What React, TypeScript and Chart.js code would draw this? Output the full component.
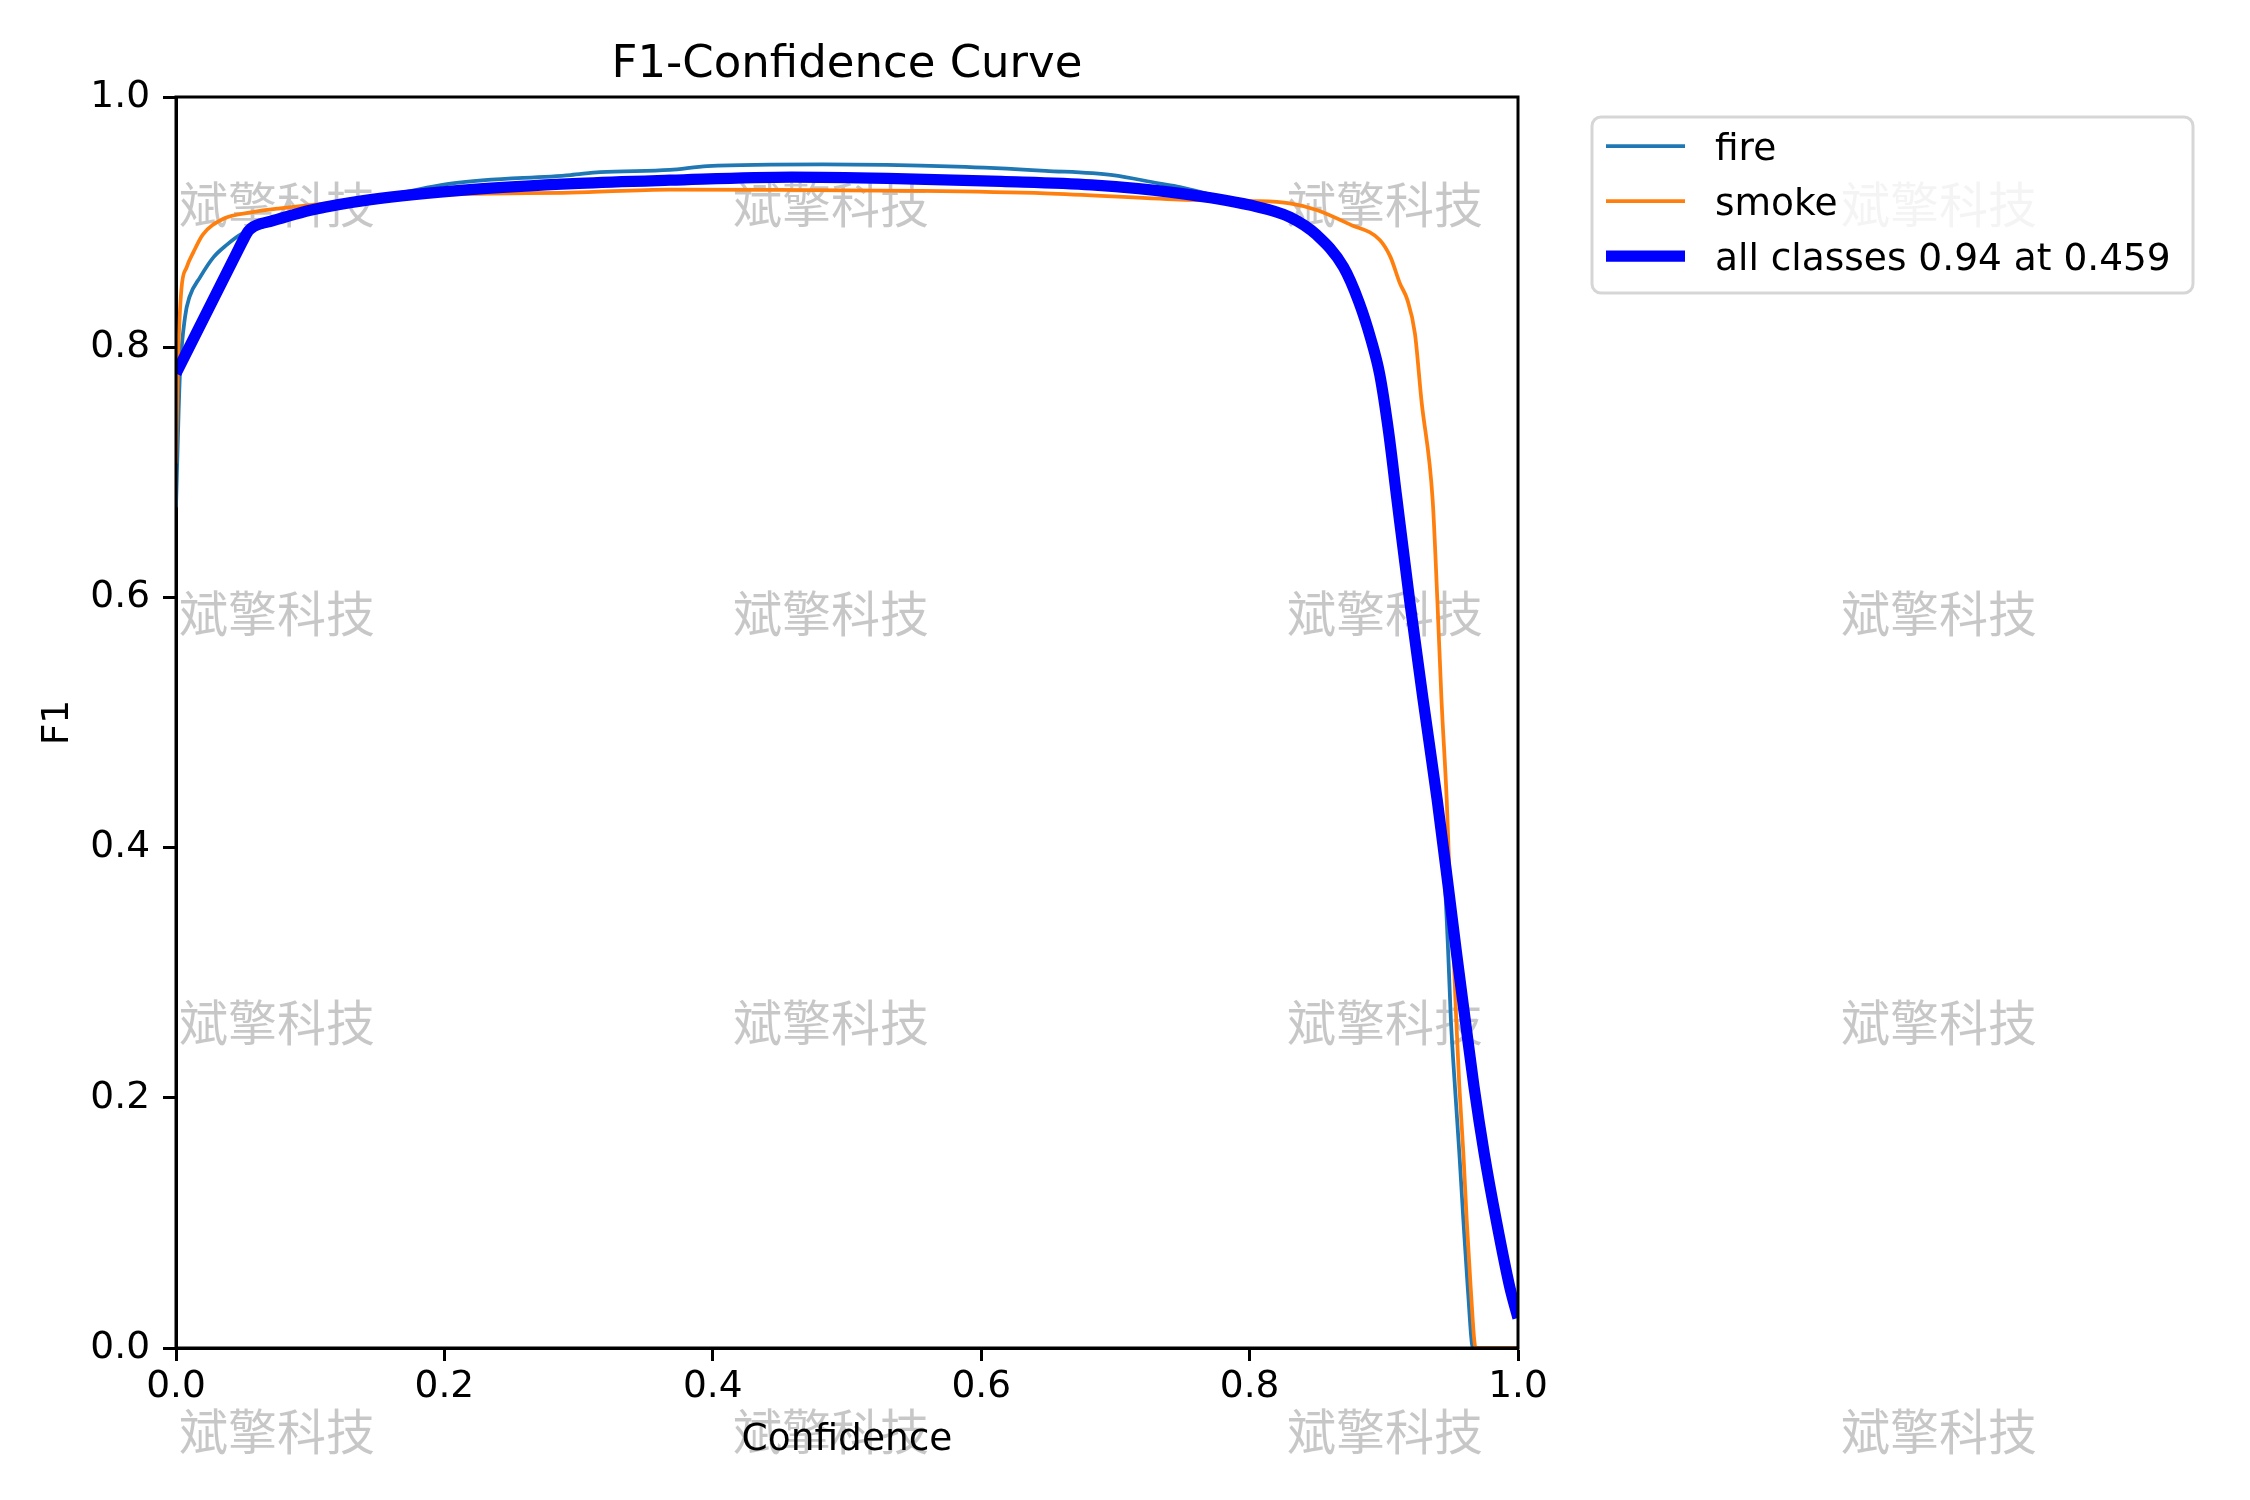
import { useEffect, useRef } from "react";
import { Chart, registerables } from "chart.js";
import type { ChartConfiguration, Plugin } from "chart.js";

Chart.register(...registerables);

// F1 curves
const fireConf = [
  0, 0.002, 0.003, 0.0067, 0.01, 0.018, 0.028, 0.038, 0.048, 0.07, 0.145, 0.206,
  0.294, 0.316, 0.368, 0.396, 0.482, 0.582, 0.648, 0.698, 0.732, 0.748, 0.8, 0.83,
  0.85, 0.87, 0.8815, 0.8905, 0.897, 0.9035, 0.9093, 0.919, 0.929, 0.9395, 0.9456, 0.948,
  0.95, 0.953, 0.9563, 0.9593, 0.9625, 0.9665, 1,
];
const fireF1 = [
  0.672, 0.75, 0.78, 0.824, 0.84, 0.856, 0.872, 0.882, 0.89, 0.9, 0.918, 0.931,
  0.9376, 0.94, 0.9417, 0.9448, 0.9462, 0.9443, 0.941, 0.9376, 0.931, 0.928, 0.913, 0.902,
  0.887, 0.862, 0.834, 0.804, 0.776, 0.731, 0.678, 0.596, 0.516, 0.436, 0.369, 0.3155,
  0.262, 0.209, 0.1556, 0.102, 0.049, 0, 0,
];

const smokeConf = [
  0, 0.0017, 0.004, 0.008, 0.013, 0.02, 0.035, 0.057, 0.0775, 0.145, 0.219, 0.294,
  0.368, 0.45, 0.55, 0.648, 0.748, 0.8, 0.83, 0.85, 0.875, 0.897, 0.905, 0.912,
  0.9175, 0.9232, 0.928, 0.9364, 0.9399, 0.943, 0.9469, 0.9493, 0.952, 0.954, 0.9563,
  0.9593, 0.9618, 0.9647, 0.9685, 1,
];
const smokeF1 = [
  0.707, 0.795, 0.846, 0.864, 0.876, 0.89, 0.9025, 0.908, 0.911, 0.918, 0.9225, 0.9235,
  0.926, 0.9257, 0.925, 0.923, 0.918, 0.917, 0.915, 0.9097, 0.898, 0.8857, 0.872, 0.851,
  0.838, 0.811, 0.758, 0.678, 0.598, 0.518, 0.438, 0.369, 0.3155, 0.262, 0.209,
  0.1556, 0.102, 0.049, 0, 0,
];

const allConf = [
  0, 0.045, 0.05, 0.054, 0.058, 0.064, 0.07, 0.1, 0.145, 0.219, 0.3, 0.368, 0.459,
  0.53, 0.615, 0.682, 0.748, 0.8, 0.83, 0.85, 0.87, 0.8815, 0.8905, 0.897, 0.9035,
  0.9096, 0.9192, 0.9293, 0.9398, 0.948, 0.9542, 0.9607, 0.9672, 0.9748, 0.9838, 0.9938, 1,
];
const allF1 = [
  0.779, 0.8749, 0.8855, 0.893, 0.8965, 0.899, 0.9005, 0.9095, 0.918, 0.926, 0.931, 0.9335, 0.936,
  0.935, 0.9325, 0.9297, 0.923, 0.9136, 0.904, 0.8897, 0.864, 0.836, 0.806, 0.778, 0.733,
  0.68, 0.598, 0.518, 0.438, 0.369, 0.3155, 0.262, 0.209, 0.1556, 0.102, 0.049, 0.024,
];

const xTicks = [0, 0.2, 0.4, 0.6, 0.8, 1.0];
const yTicks = [0, 0.2, 0.4, 0.6, 0.8, 1.0];
const seriesLabels = ["fire", "smoke", "all classes 0.94 at 0.459"];
const seriesColors = ["#1f77b4", "#ff7f0e", "#0000ff"];
const chartTitle = "F1-Confidence Curve";
const xTitle = "Confidence";
const yTitle = "F1";
const watermark = "斌擎科技";

const FONT = "DejaVu Sans";
const FS = 37.5;
const W = 2250;
const H = 1500;
const AREA = { left: 176, top: 97, right: 1518, bottom: 1348 };
const WM_COLS = [179, 733, 1287, 1841];
const WM_ROWS = [204, 613, 1022, 1431];

const toPoints = (xs: number[], ys: number[]) => xs.map((x, i) => ({ x, y: ys[i] }));

const watermarkPlugin: Plugin<"line"> = {
  id: "watermark",
  beforeDraw(chart) {
    const { ctx } = chart;
    ctx.save();
    ctx.font = `49px "Noto Sans CJK SC"`;
    ctx.fillStyle = "rgba(0,0,0,0.22)";
    ctx.textAlign = "left";
    ctx.textBaseline = "middle";
    WM_ROWS.forEach((y) => WM_COLS.forEach((x) => ctx.fillText(watermark, x, y)));
    ctx.restore();
  },
};

const framePlugin: Plugin<"line"> = {
  id: "frame",
  afterDatasetsDraw(chart) {
    const { ctx, chartArea } = chart;
    ctx.save();
    ctx.strokeStyle = "#000";
    ctx.lineWidth = 3;
    ctx.strokeRect(
      chartArea.left,
      chartArea.top,
      chartArea.right - chartArea.left,
      chartArea.bottom - chartArea.top
    );
    ctx.restore();
  },
};

const titleLegendPlugin: Plugin<"line"> = {
  id: "titleLegend",
  afterDraw(chart) {
    const { ctx, chartArea } = chart;
    ctx.save();
    // title
    ctx.fillStyle = "#000";
    ctx.font = `45px "${FONT}"`;
    ctx.textAlign = "center";
    ctx.textBaseline = "alphabetic";
    ctx.fillText(chartTitle, (chartArea.left + chartArea.right) / 2, 77);

    // legend box
    const bx = 1592, by = 117, bw = 601, bh = 176, r = 9;
    ctx.beginPath();
    ctx.moveTo(bx + r, by);
    ctx.arcTo(bx + bw, by, bx + bw, by + bh, r);
    ctx.arcTo(bx + bw, by + bh, bx, by + bh, r);
    ctx.arcTo(bx, by + bh, bx, by, r);
    ctx.arcTo(bx, by, bx + bw, by, r);
    ctx.closePath();
    ctx.fillStyle = "rgba(255,255,255,0.8)";
    ctx.fill();
    ctx.strokeStyle = "rgba(204,204,204,0.8)";
    ctx.lineWidth = 3;
    ctx.stroke();

    ctx.font = `${FS}px "${FONT}"`;
    ctx.textAlign = "left";
    ctx.textBaseline = "middle";
    seriesLabels.forEach((label, i) => {
      const y = 146 + i * 55;
      ctx.beginPath();
      ctx.moveTo(1606, y);
      ctx.lineTo(1685, y);
      ctx.strokeStyle = seriesColors[i];
      ctx.lineWidth = i === 2 ? 11.25 : 3.75;
      ctx.lineCap = "butt";
      ctx.stroke();
      ctx.fillStyle = "#000";
      ctx.fillText(label, 1715, y + 4);
    });
    ctx.restore();
  },
};

export default function App() {
  const canvasRef = useRef<HTMLCanvasElement>(null);
  const chartRef = useRef<Chart | null>(null);

  useEffect(() => {
    if (!canvasRef.current) return;
    if (chartRef.current) chartRef.current.destroy();

    const tickFont = { family: FONT, size: FS };
    const lineStyle = {
      pointRadius: 0,
      cubicInterpolationMode: "monotone" as const,
      fill: false,
      clip: 0,
      borderJoinStyle: "round" as const,
    };

    const config: ChartConfiguration<"line"> = {
      type: "line",
      data: {
        datasets: [
          {
            label: seriesLabels[0],
            data: toPoints(fireConf, fireF1),
            borderColor: seriesColors[0],
            borderWidth: 3.75,
            order: 2,
            ...lineStyle,
          },
          {
            label: seriesLabels[1],
            data: toPoints(smokeConf, smokeF1),
            borderColor: seriesColors[1],
            borderWidth: 3.75,
            order: 1,
            ...lineStyle,
          },
          {
            label: seriesLabels[2],
            data: toPoints(allConf, allF1),
            borderColor: seriesColors[2],
            borderWidth: 11.25,
            order: 0,
            ...lineStyle,
          },
        ],
      },
      options: {
        responsive: false,
        devicePixelRatio: 1,
        animation: false,
        events: [],
        layout: {
          padding: { left: 0, top: AREA.top, right: W - AREA.right, bottom: 0 },
        },
        plugins: {
          legend: { display: false },
          title: { display: false },
          tooltip: { enabled: false },
        },
        scales: {
          x: {
            type: "linear",
            position: "bottom",
            min: 0,
            max: 1,
            afterBuildTicks: (scale) => {
              scale.ticks = xTicks.map((value) => ({ value }));
            },
            afterFit: (scale) => {
              scale.height = H - AREA.bottom;
            },
            ticks: {
              font: tickFont,
              color: "#000",
              padding: 4,
              maxRotation: 0,
              autoSkip: false,
              callback: (v) => Number(v).toFixed(1),
            },
            grid: {
              drawOnChartArea: false,
              drawTicks: true,
              tickLength: 13,
              tickWidth: 3,
              tickColor: "#000",
            },
            border: { display: true, color: "#000", width: 3 },
            title: {
              display: true,
              text: xTitle,
              color: "#000",
              font: tickFont,
              padding: { top: 0, bottom: 37 },
            },
          },
          y: {
            type: "linear",
            position: "left",
            min: 0,
            max: 1,
            afterBuildTicks: (scale) => {
              scale.ticks = yTicks.map((value) => ({ value }));
            },
            afterFit: (scale) => {
              scale.width = AREA.left;
            },
            ticks: {
              font: tickFont,
              color: "#000",
              padding: 13,
              autoSkip: false,
              callback: (v) => Number(v).toFixed(1),
            },
            grid: {
              drawOnChartArea: false,
              drawTicks: true,
              tickLength: 13,
              tickWidth: 3,
              tickColor: "#000",
            },
            border: { display: true, color: "#000", width: 3 },
            title: {
              display: true,
              text: yTitle,
              color: "#000",
              font: tickFont,
              padding: { top: 36, bottom: 0 },
            },
          },
        },
      },
      plugins: [watermarkPlugin, framePlugin, titleLegendPlugin],
    };

    chartRef.current = new Chart(canvasRef.current, config);

    return () => {
      if (chartRef.current) {
        chartRef.current.destroy();
        chartRef.current = null;
      }
    };
  }, []);

  return (
    <div style={{ position: "absolute", left: 0, top: 0, width: W, height: H, background: "#fff" }}>
      <canvas ref={canvasRef} width={W} height={H} style={{ display: "block" }}></canvas>
    </div>
  );
}
